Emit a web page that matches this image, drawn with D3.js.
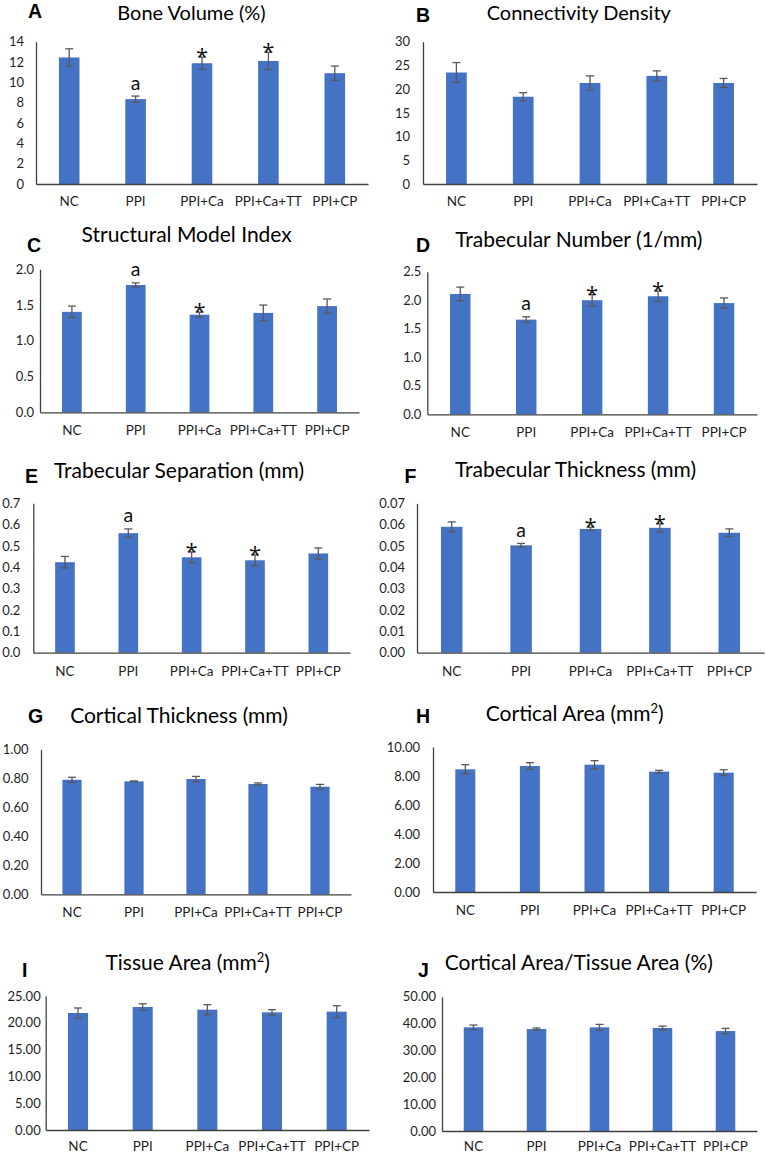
<!DOCTYPE html>
<html>
<head>
<meta charset="utf-8">
<script src="https://cdn.jsdelivr.net/npm/d3@7"></script>
<style>
  html, body { margin: 0; padding: 0; background: #fff; }
  svg { display: block; }
</style>
</head>
<body>
<svg id="chart" width="766" height="1154"></svg>
<script>
// ---------------- DATA ----------------
const categories = ["NC", "PPI", "PPI+Ca", "PPI+Ca+TT", "PPI+CP"];

const boneVolume      = [12.45, 8.35, 11.88, 12.1, 10.9];
const boneVolumeErr   = [0.85, 0.3, 0.6, 0.85, 0.7];
const boneVolumeMarks = ["", "a", "*", "*", ""];

const connDensity      = [23.5, 18.4, 21.3, 22.8, 21.3];
const connDensityErr   = [2.1, 0.85, 1.5, 1.05, 0.95];
const connDensityMarks = ["", "", "", "", ""];

const smi      = [1.405, 1.78, 1.365, 1.39, 1.485];
const smiErr   = [0.08, 0.03, 0.035, 0.11, 0.1];
const smiMarks = ["", "a", "*", "", ""];

const tbNumber      = [2.11, 1.66, 2.0, 2.07, 1.95];
const tbNumberErr   = [0.12, 0.05, 0.1, 0.09, 0.09];
const tbNumberMarks = ["", "a", "*", "*", ""];

const tbSeparation      = [0.424, 0.56, 0.447, 0.433, 0.465];
const tbSeparationErr   = [0.027, 0.02, 0.025, 0.025, 0.026];
const tbSeparationMarks = ["", "a", "*", "*", ""];

const tbThickness      = [0.059, 0.0503, 0.058, 0.0585, 0.0562];
const tbThicknessErr   = [0.0023, 0.0009, 0.0008, 0.0019, 0.0018];
const tbThicknessMarks = ["", "a", "*", "*", ""];

const ctThickness      = [0.79, 0.779, 0.795, 0.761, 0.742];
const ctThicknessErr   = [0.017, 0.003, 0.018, 0.007, 0.016];
const ctThicknessMarks = ["", "", "", "", ""];

const ctArea      = [8.46, 8.69, 8.78, 8.3, 8.23];
const ctAreaErr   = [0.32, 0.23, 0.28, 0.09, 0.2];
const ctAreaMarks = ["", "", "", "", ""];

const tissueArea      = [21.83, 22.95, 22.45, 21.95, 22.08];
const tissueAreaErr   = [0.93, 0.6, 0.93, 0.5, 1.1];
const tissueAreaMarks = ["", "", "", "", ""];

const areaRatio      = [38.6, 37.97, 38.6, 38.35, 37.2];
const areaRatioErr   = [0.86, 0.4, 1.1, 0.7, 1.0];
const areaRatioMarks = ["", "", "", "", ""];

// tick labels
const ticksA = [0, 2, 4, 6, 8, 10, 12, 14];
const ticksB = [0, 5, 10, 15, 20, 25, 30];
const ticksC = [0, 0.5, 1.0, 1.5, 2.0];
const ticksD = [0, 0.5, 1.0, 1.5, 2.0, 2.5];
const ticksE = [0, 0.1, 0.2, 0.3, 0.4, 0.5, 0.6, 0.7];
const ticksF = [0, 0.01, 0.02, 0.03, 0.04, 0.05, 0.06, 0.07];
const ticksG = [0, 0.2, 0.4, 0.6, 0.8, 1.0];
const ticksH = [0, 2, 4, 6, 8, 10];
const ticksI = [0, 5, 10, 15, 20, 25];
const ticksJ = [0, 10, 20, 30, 40, 50];

// ---------------- LAYOUT ----------------
const panels = [
  {letter:"A", title:["Bone Volume (%)"], vals:boneVolume, err:boneVolumeErr, marks:boneVolumeMarks, ticks:ticksA, fmt:"d",
   x0:36, x1:368, yTop:41.7, yBase:184, tgap:12, xpad:12.5, lx:28, ly:18, tx:191.5, ty:20, tfs:20},
  {letter:"B", title:["Connectivity Density"], vals:connDensity, err:connDensityErr, marks:connDensityMarks, ticks:ticksB, fmt:"d",
   x0:423, x1:757, yTop:41.7, yBase:184, tgap:13, xpad:12.5, lx:416, ly:22, tx:578.8, ty:20, tfs:20},
  {letter:"C", title:["Structural Model Index"], vals:smi, err:smiErr, marks:smiMarks, ticks:ticksC, fmt:".1f",
   x0:40, x1:359, yTop:269.3, yBase:412.3, tgap:6, xpad:13, lx:27, ly:252, tx:186.7, ty:242.3, tfs:21},
  {letter:"D", title:["Trabecular Number (1/mm)"], vals:tbNumber, err:tbNumberErr, marks:tbNumberMarks, ticks:ticksD, fmt:".1f",
   x0:427.3, x1:757, yTop:271.7, yBase:414.3, tgap:6, xpad:13, lx:416, ly:252, tx:578.8, ty:246.7, tfs:21},
  {letter:"E", title:["Trabecular Separation (mm)"], vals:tbSeparation, err:tbSeparationErr, marks:tbSeparationMarks, ticks:ticksE, fmt:".1f",
   x0:33.3, x1:350, yTop:503.3, yBase:652.7, tgap:13, xpad:14, lx:25, ly:483, tx:179, ty:477.7, tfs:21},
  {letter:"F", title:["Trabecular Thickness (mm)"], vals:tbThickness, err:tbThicknessErr, marks:tbThicknessMarks, ticks:ticksF, fmt:".2f",
   x0:417, x1:764, yTop:503.3, yBase:652.7, tgap:12, xpad:14, lx:404.5, ly:483, tx:575.5, ty:476.7, tfs:21},
  {letter:"G", title:["Cortical Thickness (mm)"], vals:ctThickness, err:ctThicknessErr, marks:ctThicknessMarks, ticks:ticksG, fmt:".2f",
   x0:41, x1:351, yTop:749.3, yBase:894.3, tgap:12.5, xpad:13, lx:28, ly:723, tx:179, ty:723.3, tfs:21},
  {letter:"H", title:["Cortical Area (mm", "2", ")"], vals:ctArea, err:ctAreaErr, marks:ctAreaMarks, ticks:ticksH, fmt:".2f",
   x0:433, x1:756, yTop:747, yBase:892, tgap:13, xpad:13, lx:416, ly:723, tx:574.7, ty:720.7, tfs:21},
  {letter:"I", title:["Tissue Area (mm", "2", ")"], vals:tissueArea, err:tissueAreaErr, marks:tissueAreaMarks, ticks:ticksI, fmt:".2f",
   x0:45.7, x1:369, yTop:996, yBase:1130, tgap:5, xpad:11, lx:22, ly:976.5, tx:187.7, ty:970, tfs:21},
  {letter:"J", title:["Cortical Area/Tissue Area (%)"], vals:areaRatio, err:areaRatioErr, marks:areaRatioMarks, ticks:ticksJ, fmt:".2f",
   x0:442, x1:757, yTop:996.7, yBase:1131, tgap:6, xpad:10.5, lx:418, ly:976.5, tx:578.8, ty:970, tfs:21}
];

const BAR = "#4472C4";
const ERR = "#595959";
const AXIS = "#404040";
const TXT = "#1f1f1f";
const FONT = "Lato, 'Open Sans', sans-serif";

const svg = d3.select("#chart");

panels.forEach(p => {
  const g = svg.append("g");
  const x = d3.scaleBand().domain(categories).range([p.x0, p.x1]).paddingInner(0.69).paddingOuter(0.345);
  const yMax = p.ticks[p.ticks.length - 1];
  const y = d3.scaleLinear().domain([0, yMax]).range([p.yBase, p.yTop]);

  // bars
  g.selectAll("rect.bar").data(categories).join("rect")
    .attr("class", "bar")
    .attr("x", c => x(c))
    .attr("width", x.bandwidth())
    .attr("y", (c, i) => y(p.vals[i]))
    .attr("height", (c, i) => y(0) - y(p.vals[i]))
    .attr("fill", BAR);

  // error bars
  const eg = g.selectAll("g.err").data(categories).join("g").attr("class", "err")
    .attr("stroke", ERR).attr("stroke-width", 1.3);
  eg.append("line")
    .attr("x1", c => x(c) + x.bandwidth() / 2).attr("x2", c => x(c) + x.bandwidth() / 2)
    .attr("y1", (c, i) => y(p.vals[i] + p.err[i])).attr("y2", (c, i) => y(p.vals[i] - p.err[i]));
  eg.append("line")
    .attr("x1", c => x(c) + x.bandwidth() / 2 - 4).attr("x2", c => x(c) + x.bandwidth() / 2 + 4)
    .attr("y1", (c, i) => y(p.vals[i] + p.err[i])).attr("y2", (c, i) => y(p.vals[i] + p.err[i]));
  eg.append("line")
    .attr("x1", c => x(c) + x.bandwidth() / 2 - 4).attr("x2", c => x(c) + x.bandwidth() / 2 + 4)
    .attr("y1", (c, i) => y(p.vals[i] - p.err[i])).attr("y2", (c, i) => y(p.vals[i] - p.err[i]));

  // significance marks
  g.selectAll("text.mark").data(categories).join("text")
    .attr("class", "mark")
    .attr("x", c => x(c) + x.bandwidth() / 2)
    .attr("y", (c, i) => {
      const top = y(p.vals[i] + p.err[i]);
      return p.marks[i] === "*" ? top + 7 : top - 6.5;
    })
    .attr("text-anchor", "middle")
    .attr("font-family", (c, i) => p.marks[i] === "*" ? "'Open Sans', sans-serif" : FONT)
    .attr("font-size", (c, i) => p.marks[i] === "*" ? 22 : 19.5)
    .attr("fill", "#111")
    .text((c, i) => p.marks[i]);

  // y axis
  const yAxis = d3.axisLeft(y).tickValues(p.ticks).tickFormat(d3.format(p.fmt)).tickSize(0).tickPadding(p.tgap);
  const ya = g.append("g").attr("transform", `translate(${p.x0},0)`).call(yAxis);
  ya.select(".domain").attr("stroke", AXIS).attr("stroke-width", 1.3);
  ya.selectAll("text").attr("font-family", FONT).attr("font-size", 13).attr("fill", TXT);

  // x axis
  const xAxis = d3.axisBottom(x).tickSize(0).tickPadding(p.xpad);
  const xa = g.append("g").attr("transform", `translate(0,${p.yBase})`).call(xAxis);
  xa.select(".domain").attr("stroke", AXIS).attr("stroke-width", 1.3);
  xa.selectAll("text").attr("font-family", FONT).attr("font-size", 13.5).attr("fill", TXT);

  // title
  const t = g.append("text")
    .attr("x", p.tx).attr("y", p.ty)
    .attr("text-anchor", "middle")
    .attr("font-family", FONT)
    .attr("font-size", p.tfs)
    .attr("fill", "#000");
  t.append("tspan").text(p.title[0]);
  if (p.title.length > 1) {
    t.append("tspan").attr("dy", -8).attr("font-size", 13).text(p.title[1]);
    t.append("tspan").attr("dy", 8).text(p.title[2]);
  }

  // panel letter
  g.append("text")
    .attr("x", p.lx).attr("y", p.ly)
    .attr("font-family", "'Liberation Sans', Arial, sans-serif")
    .attr("font-weight", "bold")
    .attr("font-size", 19.5)
    .attr("fill", "#000")
    .text(p.letter);
});
</script>
</body>
</html>
